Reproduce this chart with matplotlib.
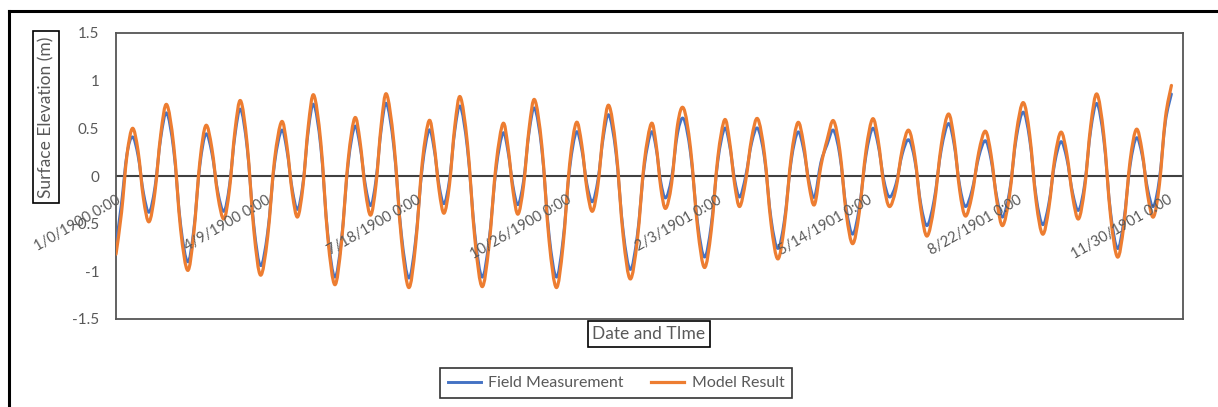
import matplotlib
matplotlib.use("Agg")
from matplotlib import pyplot as plt
from matplotlib.lines import Line2D
from matplotlib.path import Path
from matplotlib.patches import PathPatch

plt.rcParams['font.family'] = ['Lato', 'DejaVu Sans']

# time in days since the Excel epoch (1/0/1900)
days = [0, 3.7, 7.3, 11, 14.7, 18.3, 22, 25.9, 29.8, 33.7, 38.4, 43.0, 47.7, 51.7, 55.8,
        59.8, 63.8, 67.8, 71.8, 75.5, 79.2, 82.9, 87.3, 91.8, 96.2, 100.9, 105.5, 110.2,
        113.7, 117.3, 120.8, 124.4, 128.0, 131.6, 136.3, 140.9, 145.6, 150.0, 154.5, 158.9,
        162.4, 166.0, 169.5, 173.0, 176.5, 180, 184.9, 189.9, 194.8, 199.3, 203.8, 208.3,
        211.6, 215.0, 218.3, 221.9, 225.5, 229.1, 233.9, 238.8, 243.6, 248.2, 252.9, 257.5,
        260.8, 264.2, 267.5, 271.2, 274.9, 278.6, 283.4, 288.2, 293, 297.4, 301.9, 306.3,
        309.9, 313.4, 317, 320.7, 324.3, 328, 332.7, 337.5, 342.2, 346.9, 351.5, 356.2,
        359.4, 362.5, 365.7, 369.7, 373.7, 377.7, 382.3, 387.0, 391.6, 396.1, 400.5, 405,
        408.3, 411.7, 415, 419.0, 423.0, 427, 431.5, 435.9, 440.4, 444.8, 449.3, 453.7,
        457.4, 461.1, 464.8, 469.0, 473.2, 477.4, 481.7, 485.9, 490.2, 494.6, 499.1, 503.5,
        507.2, 510.9, 514.6, 518.9, 523.2, 527.5, 531.6, 535.6, 539.7, 544.4, 549.2, 553.9,
        557.7, 561.4, 565.2, 569.6, 574.1, 578.5, 582.3, 586.2, 590, 594.6, 599.1, 603.7,
        608.0, 612.3, 616.6, 620.7, 624.7, 628.8, 632.7, 636.6, 640.5, 644.6, 648.6, 652.7,
        657.3, 661.8, 666.4, 670.6, 674.8, 679, 682.8, 686.5, 690.3, 694.3, 698.3, 702.3]

field = [-0.72, -0.28, 0.23, 0.41, 0.21, -0.18, -0.38, -0.12, 0.40, 0.66, 0.27, -0.51, -0.90,
         -0.57, 0.11, 0.44, 0.24, -0.17, -0.37, -0.10, 0.43, 0.70, 0.29, -0.53, -0.94, -0.59,
         0.13, 0.48, 0.27, -0.14, -0.35, -0.08, 0.48, 0.75, 0.30, -0.61, -1.06, -0.67, 0.13,
         0.52, 0.31, -0.10, -0.31, -0.04, 0.49, 0.76, 0.30, -0.61, -1.07, -0.68, 0.09, 0.48,
         0.29, -0.10, -0.29, -0.04, 0.48, 0.73, 0.28, -0.61, -1.06, -0.68, 0.07, 0.45, 0.26,
         -0.11, -0.30, -0.05, 0.46, 0.71, 0.27, -0.62, -1.06, -0.68, 0.08, 0.46, 0.28, -0.09,
         -0.27, -0.04, 0.41, 0.64, 0.24, -0.58, -0.98, -0.62, 0.10, 0.46, 0.29, -0.06, -0.23,
         -0.02, 0.45, 0.60, 0.24, -0.49, -0.85, -0.51, 0.16, 0.50, 0.32, -0.04, -0.22, 0.00,
         0.35, 0.50, 0.19, -0.45, -0.76, -0.46, 0.16, 0.46, 0.29, -0.05, -0.22, 0.14, 0.33,
         0.48, 0.21, -0.34, -0.61, -0.33, 0.22, 0.50, 0.32, -0.04, -0.22, -0.09, 0.23, 0.38,
         0.16, -0.30, -0.52, -0.25, 0.28, 0.55, 0.33, -0.10, -0.32, -0.15, 0.20, 0.37, 0.17,
         -0.23, -0.43, -0.16, 0.40, 0.67, 0.38, -0.22, -0.51, -0.29, 0.14, 0.36, 0.18, -0.18,
         -0.36, -0.08, 0.48, 0.76, 0.38, -0.38, -0.76, -0.47, 0.11, 0.40, 0.22, -0.14, -0.32,
         -0.03, 0.57, 0.86]

model = [-0.82, -0.38, 0.22, 0.50, 0.26, -0.24, -0.48, -0.17, 0.44, 0.75, 0.32, -0.56, -0.99,
         -0.61, 0.15, 0.53, 0.29, -0.21, -0.45, -0.14, 0.48, 0.79, 0.33, -0.58, -1.04, -0.64,
         0.17, 0.57, 0.32, -0.18, -0.43, -0.11, 0.53, 0.85, 0.35, -0.64, -1.14, -0.70, 0.17,
         0.61, 0.36, -0.16, -0.41, -0.09, 0.54, 0.86, 0.35, -0.66, -1.17, -0.73, 0.14, 0.58,
         0.34, -0.15, -0.39, -0.09, 0.53, 0.83, 0.33, -0.66, -1.16, -0.73, 0.12, 0.55, 0.31,
         -0.16, -0.40, -0.10, 0.50, 0.80, 0.31, -0.68, -1.17, -0.74, 0.13, 0.56, 0.33, -0.14,
         -0.37, -0.09, 0.46, 0.74, 0.29, -0.63, -1.08, -0.67, 0.14, 0.55, 0.33, -0.12, -0.34,
         -0.08, 0.54, 0.71, 0.29, -0.54, -0.96, -0.57, 0.20, 0.59, 0.36, -0.09, -0.32, -0.05,
         0.40, 0.60, 0.23, -0.50, -0.87, -0.51, 0.20, 0.56, 0.35, -0.09, -0.30, 0.10, 0.38,
         0.58, 0.26, -0.39, -0.71, -0.38, 0.27, 0.60, 0.37, -0.09, -0.32, -0.14, 0.28, 0.48,
         0.20, -0.35, -0.63, -0.31, 0.33, 0.65, 0.38, -0.15, -0.42, -0.20, 0.25, 0.47, 0.22,
         -0.27, -0.52, -0.20, 0.45, 0.77, 0.43, -0.27, -0.61, -0.34, 0.19, 0.46, 0.23, -0.22,
         -0.45, -0.12, 0.53, 0.86, 0.43, -0.42, -0.85, -0.52, 0.16, 0.49, 0.26, -0.20, -0.43,
         -0.09, 0.61, 0.95]

tick_days = [0, 100, 200, 300, 400, 500, 600, 700]
tick_labels = ['1/0/1900 0:00', '4/9/1900 0:00', '7/18/1900 0:00', '10/26/1900 0:00',
               '2/3/1901 0:00', '5/14/1901 0:00', '8/22/1901 0:00', '11/30/1901 0:00']
y_ticks = [-1.5, -1, -0.5, 0, 0.5, 1, 1.5]
y_labels = ['-1.5', '-1', '-0.5', '0', '0.5', '1', '1.5']


def smooth_path(xs, ys):
    # Excel-style smoothed line: cubic bezier through every point
    n = len(xs)
    verts = [(xs[0], ys[0])]
    codes = [Path.MOVETO]
    for i in range(n - 1):
        i0 = max(i - 1, 0)
        i3 = min(i + 2, n - 1)
        c1 = (xs[i] + (xs[i + 1] - xs[i0]) / 6, ys[i] + (ys[i + 1] - ys[i0]) / 6)
        c2 = (xs[i + 1] - (xs[i3] - xs[i]) / 6, ys[i + 1] - (ys[i3] - ys[i]) / 6)
        verts += [c1, c2, (xs[i + 1], ys[i + 1])]
        codes += [Path.CURVE4] * 3
    return Path(verts, codes)


grey = '#595959'
blue = '#4472C4'
orange = '#ED7D31'
W, H = 1218, 407
fig = plt.figure(figsize=(W / 100, H / 100), dpi=100)
ax = fig.add_axes([116 / W, 1 - 319 / H, (1183 - 116) / W, (319 - 33) / H])

ax.add_patch(PathPatch(smooth_path(days, field), fill=False, ec=blue, lw=2.1,
                       joinstyle='round', capstyle='round', zorder=3))
ax.add_patch(PathPatch(smooth_path(days, model), fill=False, ec=orange, lw=2.3,
                       joinstyle='round', capstyle='round', zorder=4))
ax.axhline(0, color='#404040', lw=1.5, zorder=2)

ax.set_xlim(0, 710)
ax.set_ylim(-1.5, 1.5)
ax.set_yticks(y_ticks)
ax.set_yticklabels(y_labels, color=grey, fontsize=11)
ax.tick_params(axis='y', length=0, pad=12)
ax.set_xticks([])
for s in ax.spines.values():
    s.set_color('#555555')
    s.set_linewidth(1.3)

# date labels sit on the zero line, as in Excel
for d, lab in zip(tick_days, tick_labels):
    ax.annotate(lab, xy=(d, 0), xytext=(0, -17), textcoords='offset pixels',
                rotation=30, rotation_mode='anchor', ha='right', va='top',
                color=grey, fontsize=10.5, annotation_clip=False, zorder=6)

box = dict(boxstyle='square,pad=0.28', fc='white', ec='black', lw=1.2)
fig.text(46 / W, 1 - 117 / H, 'Surface Elevation (m)', rotation=90, ha='center', va='center',
         color=grey, fontsize=12.5, bbox=box)
fig.text(649 / W, 1 - 334 / H, 'Date and TIme', ha='center', va='center',
         color=grey, fontsize=12.5, bbox=box)

handles = [Line2D([], [], color=blue, lw=2.1), Line2D([], [], color=orange, lw=2.3)]
leg = fig.legend(handles, ['Field Measurement', 'Model Result'], loc='center',
                 bbox_to_anchor=(616 / W, 1 - 383 / H), ncol=2, fontsize=11.5,
                 frameon=True, fancybox=False, edgecolor='black', handlelength=2.1,
                 handletextpad=0.45, columnspacing=1.7, borderpad=0.5, borderaxespad=0)
leg.get_frame().set_linewidth(1.2)
for t in leg.get_texts():
    t.set_color(grey)

# outer chart frame (top and left edges visible)
fig.add_artist(Line2D([9 / W, 1], [1 - 11 / H, 1 - 11 / H], color='black', lw=2.2))
fig.add_artist(Line2D([9 / W, 9 / W], [0, 1 - 11 / H], color='black', lw=2.2))

fig.savefig('out.png', dpi=100)
